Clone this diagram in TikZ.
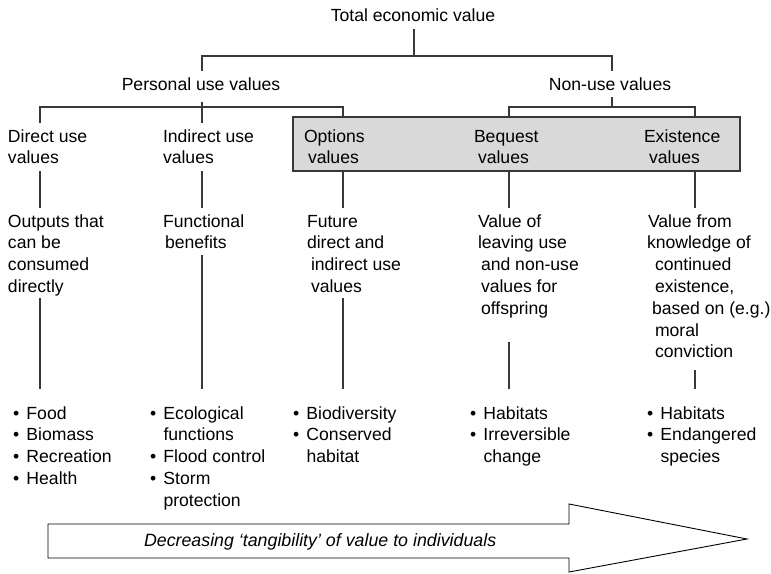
\documentclass[tikz,border=0pt]{standalone}
\usepackage{fontspec}
\setmainfont{Liberation Sans}
\newcommand\stack[1]{\begin{tabular}[t]{@{}l@{}}#1\end{tabular}}
\newcommand\blist[1]{\begin{tabular}[t]{@{}l@{}l@{}}#1\end{tabular}}
\newcommand\bul{\makebox[13.5pt][l]{•}}
\begin{document}
\begin{tikzpicture}[x=1pt,y=-1pt,
  lbl/.style={anchor=base west, inner sep=0pt, outer sep=0pt, text=black,
    font=\fontsize{17.6}{21.8}\selectfont},
  head/.style={lbl, anchor=base},
  link/.style={draw=black!78, line width=1.6pt},
  panel/.style={draw=black!78, fill=black!15, line width=1.3pt},
  bigarrow/.style={draw=black, line width=0.9pt, fill=white, line join=miter},
]
\useasboundingbox (0,0) rectangle (771,573);

% shaded band behind the option, bequest and existence values
\draw[panel] (293,117) rectangle (740,171);

% headings
\node[head] (tev) at (413,21) {Total economic value};
\node[head] (puv) at (201,90) {Personal use values};
\node[head] (nuv) at (610,90) {Non-use values};

% value categories
\node[lbl] (duv) at (8,142) {\stack{Direct use\\values}};
\node[lbl] (iuv) at (163,142) {\stack{Indirect use\\values}};
\node[lbl] (ouv) at (304,142) {\stack{Options\\\hspace*{4pt}values}};
\node[lbl] (buv) at (474,142) {\stack{Bequest\\\hspace*{4pt}values}};
\node[lbl] (euv) at (644,142) {\stack{Existence\\\hspace*{5pt}values}};

% descriptions
\node[lbl] (dd) at (8,227) {\stack{Outputs that\\can be\\consumed\\directly}};
\node[lbl] (id) at (163,227) {\stack{Functional\\\hspace*{2pt}benefits}};
\node[lbl] (od) at (307,227) {\stack{Future\\direct and\\\hspace*{4pt}indirect use\\\hspace*{4pt}values}};
\node[lbl] (bd) at (478,227) {\stack{Value of\\leaving use\\\hspace*{3pt}and non-use\\\hspace*{3pt}values for\\\hspace*{3pt}offspring}};
\node[lbl] (ed) at (647,227) {\stack{\hspace*{1pt}Value from\\knowledge of\\\hspace*{8pt}continued\\\hspace*{8pt}existence,\\\hspace*{5pt}based on (e.g.)\\\hspace*{8pt}moral\\\hspace*{8pt}conviction}};

% examples
\node[lbl] (dx) at (13,419) {\blist{\bul&Food\\\bul&Biomass\\\bul&Recreation\\\bul&Health}};
\node[lbl] (ix) at (150,419) {\blist{\bul&Ecological\\&functions\\\bul&Flood control\\\bul&Storm\\&protection}};
\node[lbl] (ox) at (293,419) {\blist{\bul&Biodiversity\\\bul&Conserved\\&habitat}};
\node[lbl] (bx) at (470,419) {\blist{\bul&Habitats\\\bul&Irreversible\\&change}};
\node[lbl] (ex) at (647,419) {\blist{\bul&Habitats\\\bul&Endangered\\&species}};

% tree joints
\coordinate (tevfoot) at (414,29);
\coordinate (tevjoin) at (414,56);
\coordinate (puvtop) at (202,71);
\coordinate (nuvtop) at (612,71);
\coordinate (puvfoot) at (202,102);
\coordinate (puvjoin) at (202,107);
\coordinate (nuvfoot) at (612,97);
\coordinate (nuvjoin) at (612,107);
\coordinate (duvtop) at (40,123);
\coordinate (iuvtop) at (202,123);
\coordinate (ouvtop) at (343,117);
\coordinate (buvtop) at (509,117);
\coordinate (euvtop) at (695,117);

\draw[link] (tevfoot) -- (tevjoin);
\draw[link] (puvtop) |- (nuvtop |- tevjoin) -- (nuvtop);
\draw[link] (puvfoot) -- (iuvtop);
\draw[link] (duvtop) |- (puvjoin) -| (ouvtop);
\draw[link] (nuvfoot) -- (nuvjoin);
\draw[link] (buvtop) |- (nuvjoin) -| (euvtop);

% stems from categories to descriptions and examples
\foreach \c/\x/\y in {d/40/298, i/202/255, o/343/298, b/509/342, e/695/370} {
  \coordinate (\c1) at (\x,171);
  \coordinate (\c2) at (\x,208);
  \coordinate (\c3) at (\x,\y);
  \coordinate (\c4) at (\x,389);
  \draw[link] (\c1) -- (\c2);
  \draw[link] (\c3) -- (\c4);
}

% tangibility arrow
\draw[bigarrow] (48,524) -- (569,524) -- (569,504) -- (747,539) -- (569,572)
  -- (569,558) -- (48,558) -- cycle;
\node[lbl, font=\fontsize{17.8}{21.8}\selectfont\itshape] (tang) at (144,546)
  {Decreasing ‘tangibility’ of value to individuals};
\end{tikzpicture}
\end{document}
